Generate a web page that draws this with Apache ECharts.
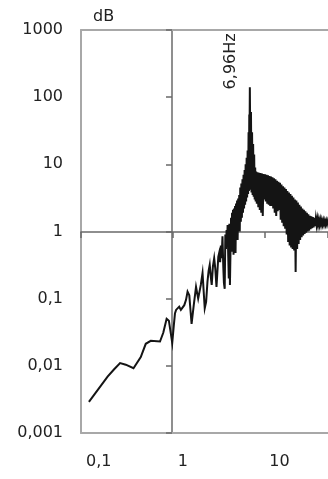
<!DOCTYPE html>
<html>
<head>
<meta charset="utf-8">
<script src="https://cdn.jsdelivr.net/npm/echarts@6/dist/echarts.min.js"></script>
<style>
html,body{margin:0;padding:0;background:#fff;}
#chart{width:328px;height:479px;}
</style>
</head>
<body>
<div id="chart"></div>
<script>
// Frequency (Hz)
const freqHz = [
0.122,0.195,0.23,0.267,0.308,0.374,0.449,0.509,0.577,0.728,0.79,0.86,0.91,0.99,
1.03,1.06,1.09,1.14,1.18,1.23,1.28,1.34,1.40,1.455,1.52,1.61,1.70,1.80,1.90,2.03,2.12,2.24,
2.32,2.40,2.47,2.54,2.60,2.67,2.75,2.84,2.92,3.01,3.08,3.15,3.22,3.30,3.36,3.42,3.50,3.57,
3.63,3.70,3.76,3.82,3.88,3.93,3.98,4.04,4.10,4.16,4.22,4.28,4.34,4.40,4.45,4.50,4.56,4.62,
4.68,4.74,4.80,4.86,4.92,4.98,5.05,5.12,5.19,5.26,5.33,5.40,5.47,5.55,5.62,5.70,5.78,5.86,
5.94,6.02,6.10,6.18,6.26,6.34,6.42,6.50,6.58,6.66,6.74,6.80,6.86,6.90,6.96,7.02,7.08,7.16,
7.26,7.36,7.46,7.56,7.66,7.76,7.86,7.96,8.06,8.16,8.29,8.45,8.61,8.77,8.93,9.10,9.27,9.45,
9.63,9.81,10.0,10.19,10.38,10.58,10.78,10.98,11.19,11.40,11.62,11.84,12.06,12.29,12.52,12.76,
13.0,13.25,13.5,13.76,14.02,14.28,14.55,14.83,15.11,15.40,15.69,16.0,16.29,16.6,16.91,17.23,
17.56,17.89,18.23,18.58,18.93,19.29,19.66,20.03,20.41,20.8,21.19,21.6,21.99,22.4,22.84,23.27,
23.71,24.16,24.62,25.09,25.56,26.05,26.54,27.04,27.56,28.08,28.61,29.16,29.71,30.27,30.85,31.44,
32.03,32.64,33.26,33.89,34.53,35.19,35.85,36.53,37.22,37.93,38.64,39.38,40.12,40.88,41.66,42.45,
43.25,44.07,44.9,45.75,46.62,47.5,48.4,49.32,50.25
];
// Amplitude (dB scale values)
const amplitude = [
0.0029,0.0069,0.0089,0.011,0.0104,0.0092,0.0135,0.0213,0.0236,0.023,0.031,0.05,0.047,0.022,
0.040,0.060,0.068,0.072,0.076,0.068,0.064,0.080,0.096,0.127,0.112,0.042,0.080,0.15,0.10,0.16,0.24,0.072,
0.09,0.18,0.26,0.32,0.22,0.16,0.30,0.40,0.28,0.15,0.16,0.42,0.48,0.35,0.62,0.40,0.85,0.30,
0.17,0.14,0.90,0.55,1.05,0.63,1.25,0.45,0.20,1.30,0.16,0.16,1.6,0.5,1.9,0.8,2.1,0.45,
2.2,0.9,2.4,0.48,2.6,1.1,2.9,0.75,3.1,1.3,3.5,1.0,4.5,1.4,5.2,1.6,6.0,1.9,
7.0,2.2,8.2,2.5,10,2.8,12.5,3.2,16,3.6,30,4.0,55,20,140,30,4.2,60,
3.8,30,3.5,20,3.3,14,3.0,9,2.8,7.8,2.6,7.6,2.3,7.5,2.1,7.4,1.9,7.3,
1.7,7.2,3.0,7.1,2.8,7.0,2.6,6.9,2.5,6.7,2.4,6.6,2.4,6.4,2.2,6.2,
1.9,6.0,1.7,5.7,2.0,5.5,2.1,5.3,1.5,5.0,1.35,4.7,1.2,4.5,1.1,4.3,
0.9,4.0,0.7,3.8,0.62,3.6,0.58,3.4,0.55,3.2,0.52,3.0,0.25,2.9,0.55,2.7,
0.65,2.5,0.75,2.35,0.82,2.2,0.87,2.1,0.92,2.0,0.96,1.9,1.0,1.8,1.03,1.72,
1.08,1.68,1.12,1.64,1.15,1.6,1.2,1.56,1.25,1.53,1.25,1.5,1.26,1.49,1.26,1.47,
1.27,1.46,1.27,1.45,1.27,1.44,1.27,1.43,1.27
];
// Axis ranges (the visible part of the original plot) and annotation
const xRange = [0.1, 49.6];
const yRange = [0.001, 1000];
const yName = 'dB';
const peakFreq = 6.96;
const peakAmp = 140;
const peakLabel = '6,96Hz';

const FONT = 'DejaVu Sans';
const fmt = v => String(Number(v.toPrecision(4))).replace('.', ',');
const frame = {color: '#a8a8a8', width: 2};
const cross = {color: '#6a6a6a', width: 1.5};

const chart = echarts.init(document.getElementById('chart'), null, {renderer: 'canvas'});
chart.setOption({
  animation: false,
  backgroundColor: '#ffffff',
  grid: {left: 81, top: 30, right: 0, height: 403, containLabel: false},
  xAxis: [
    {type: 'log', logBase: 10, min: xRange[0], max: xRange[1], position: 'bottom',
     axisLine: {show: true, onZero: false, lineStyle: frame},
     axisTick: {show: false}, splitLine: {show: false},
     axisLabel: {show: true, formatter: fmt, margin: 21, fontSize: 16, fontFamily: FONT, color: '#222',
                 align: 'left', padding: [0, 0, 0, 5], showMaxLabel: false}},
    {type: 'log', logBase: 10, min: xRange[0], max: xRange[1], position: 'top',
     axisLine: {show: true, onZero: false, lineStyle: frame},
     axisTick: {show: false}, axisLabel: {show: false}, splitLine: {show: false}},
    {type: 'log', logBase: 10, min: xRange[0], max: xRange[1], position: 'bottom', offset: -201,
     axisLine: {show: true, onZero: false, lineStyle: cross},
     axisTick: {show: true, length: 6, lineStyle: cross}, axisLabel: {show: false}, splitLine: {show: false}}
  ],
  yAxis: [
    {type: 'log', logBase: 10, min: yRange[0], max: yRange[1], position: 'left',
     name: yName, nameLocation: 'end', nameGap: 5,
     nameTextStyle: {fontSize: 16, fontFamily: FONT, color: '#222', align: 'left', verticalAlign: 'bottom', padding: [0, 0, 0, 12]},
     axisLine: {show: true, onZero: false, lineStyle: frame},
     axisTick: {show: false}, splitLine: {show: false},
     axisLabel: {show: true, formatter: fmt, margin: 18, fontSize: 16, fontFamily: FONT, color: '#222'}},
    {type: 'log', logBase: 10, min: yRange[0], max: yRange[1], position: 'left', offset: -91,
     axisLine: {show: true, onZero: false, lineStyle: cross},
     axisTick: {show: true, length: 6, lineStyle: cross}, axisLabel: {show: false}, splitLine: {show: false}}
  ],
  series: [{
    type: 'line',
    xAxisIndex: 0, yAxisIndex: 0,
    data: freqHz.map((f, i) => [f, amplitude[i]]),
    showSymbol: false, symbol: 'none',
    lineStyle: {color: '#141414', width: 2, join: 'miter'},
    markPoint: {
      symbol: 'circle', symbolSize: 0,
      data: [{coord: [peakFreq, peakAmp]}],
      label: {show: true, formatter: peakLabel, rotate: 90, offset: [26, -19], position: 'inside',
              fontSize: 16, fontFamily: FONT, color: '#222'}
    }
  }]
});
</script>
</body>
</html>
